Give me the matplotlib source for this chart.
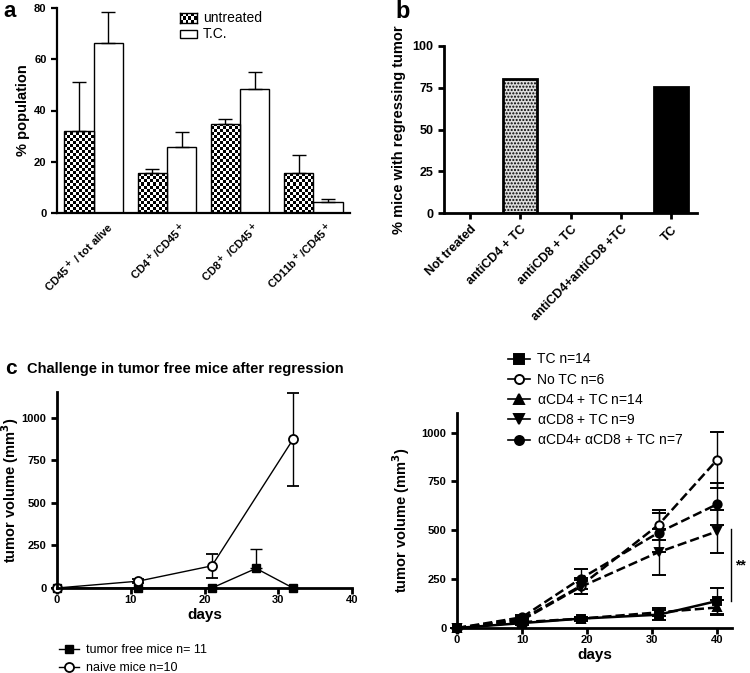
import matplotlib
matplotlib.use('Agg')
import matplotlib.pyplot as plt
import numpy as np
from matplotlib.patches import Rectangle
from matplotlib.lines import Line2D
from matplotlib.transforms import ScaledTranslation

plt.rcParams['font.family'] = ['Liberation Sans', 'DejaVu Sans']
plt.rcParams['font.weight'] = 'bold'
plt.rcParams['axes.labelweight'] = 'bold'
plt.rcParams['mathtext.default'] = 'bf'

# panel a: immune populations
a_categories = ['CD45$^+$ / tot alive', 'CD4$^+$/CD45$^+$', 'CD8$^+$ /CD45$^+$', 'CD11b$^+$/CD45$^+$']
a_untreated = [32, 15.7, 34.6, 15.7]
a_untreated_err = [19.3, 1.5, 2.1, 7.0]
a_tc = [66.3, 25.7, 48.2, 4.3]
a_tc_err = [12.2, 5.8, 6.9, 1.1]

# panel b: % mice with regressing tumor
b_categories = ['Not treated', 'antiCD4 + TC', 'antiCD8 + TC', 'antiCD4+antiCD8 +TC', 'TC']
b_values = [0, 80, 0, 0, 75.3]

# panel c: challenge in tumor free mice
c_days_free = [0, 11, 21, 27, 32]
c_free = [0, 0, 0, 115, 0]
c_free_err = [0, 0, 0, 115, 0]
c_days_naive = [0, 11, 21, 32]
c_naive = [0, 40, 130, 872]
c_naive_err = [0, 12, 70, 273]

# panel d: depletion experiment
d_days = [0, 10, 19, 31, 40]
d_tc = [0, 25, 48, 68, 138]
d_tc_err = [0, 8, 10, 25, 65]
d_notc = [0, 45, 215, 528, 860]
d_notc_err = [0, 10, 40, 77, 145]
d_cd4 = [0, 30, 48, 80, 105]
d_cd4_err = [0, 8, 8, 20, 40]
d_cd8 = [0, 40, 210, 388, 494]
d_cd8_err = [0, 10, 35, 117, 111]
d_cd48 = [0, 55, 252, 488, 633]
d_cd48_err = [0, 10, 52, 100, 108]

fig = plt.figure(figsize=(7.5, 6.73), dpi=100)
W, H = 750, 673

def px_axes(l, t, r, b):
    return fig.add_axes([l / W, (H - b) / H, (r - l) / W, (b - t) / H])

def style(ax, lw=1.6, size=8):
    for s in ['top', 'right']:
        ax.spines[s].set_visible(False)
    for s in ['left', 'bottom']:
        ax.spines[s].set_linewidth(lw)
    ax.tick_params(width=lw, length=4, labelsize=size, direction='out')
    for lab in ax.get_xticklabels() + ax.get_yticklabels():
        lab.set_fontweight('bold')

def checker(ny, nx):
    return np.indices((ny, nx)).sum(axis=0) % 2

# ---- a ----
ax = px_axes(57, 8, 350, 213)
x = np.arange(len(a_categories))
w = 0.4
bars = ax.bar(x - w / 2, a_untreated, w, color='none', edgecolor='black', linewidth=1, zorder=3)
# checkerboard fill of the untreated bars (about 3 px squares)
cw, ch = 0.04, 1.17
for b in bars:
    x0, h = b.get_x(), b.get_height()
    nx, ny = int(round(w / cw)), int(np.ceil(h / ch))
    im = ax.imshow(checker(ny, nx), cmap='gray', interpolation='nearest', aspect='auto',
                   extent=(x0, x0 + nx * cw, 0, ny * ch), origin='lower', zorder=2)
    im.set_clip_path(b)
ax.errorbar(x - w / 2, a_untreated, yerr=[np.zeros(4), a_untreated_err], fmt='none', ecolor='black', elinewidth=1, capsize=5)
ax.bar(x + w / 2, a_tc, w, color='white', edgecolor='black', linewidth=1)
ax.errorbar(x + w / 2, a_tc, yerr=[np.zeros(4), a_tc_err], fmt='none', ecolor='black', elinewidth=1, capsize=5)
ax.set_xlim(-0.5, 3.5)
ax.set_ylim(0, 80)
ax.set_yticks([0, 20, 40, 60, 80])
ax.set_xticks(x)
ax.set_xticklabels(a_categories, rotation=45, ha='right', rotation_mode='anchor')
ax.set_ylabel('% population', fontsize=10.5)
ax.yaxis.set_label_coords(-0.092, 0.5)
style(ax)
ax.tick_params(axis='x', length=0, pad=5)
for lab in ax.get_xticklabels():
    lab.set_transform(lab.get_transform() + ScaledTranslation(0.12, 0, fig.dpi_scale_trans))

# legend of panel a drawn by hand
lax = px_axes(180, 13, 197, 23)
lax.imshow(checker(3, 6), cmap='gray', interpolation='nearest', aspect='auto')
lax.set_xticks([])
lax.set_yticks([])
for s in lax.spines.values():
    s.set_linewidth(1)
fig.patches.append(Rectangle((180 / W, 1 - 38 / H), 17 / W, 8 / H, transform=fig.transFigure,
                             facecolor='white', edgecolor='black', linewidth=1))
fig.text(203 / W, 1 - 18 / H, 'untreated', fontsize=10, fontweight='normal', va='center')
fig.text(203 / W, 1 - 34 / H, 'T.C.', fontsize=10, fontweight='normal', va='center')
fig.text(3 / W, 1 - 17 / H, 'a', fontsize=16, fontweight='bold')

# ---- b ----
ax = px_axes(444, 46, 697, 213)
xb = np.arange(len(b_categories))
colors_b = ['white', '#dcdcdc', 'white', 'white', 'black']
hatch_b = [None, '.....', None, None, None]
for i in range(len(b_categories)):
    if b_values[i] > 0:
        ax.bar(xb[i], b_values[i], 0.68, color=colors_b[i], edgecolor='black',
               hatch=hatch_b[i], linewidth=2)
ax.set_xlim(-0.52, 4.52)
ax.set_ylim(0, 100)
ax.set_yticks([0, 25, 50, 75, 100])
ax.set_xticks(xb)
ax.set_xticklabels(b_categories, rotation=45, ha='right', rotation_mode='anchor')
ax.set_ylabel('% mice with regressing tumor', fontsize=10.5)
ax.yaxis.set_label_coords(-0.15, 0.5)
style(ax, lw=2, size=9)
fig.text(395 / W, 1 - 18 / H, 'b', fontsize=17, fontweight='bold')

# ---- c ----
ax = px_axes(57, 392, 352, 588)
ax.errorbar(c_days_free, c_free, yerr=[np.zeros(5), c_free_err], color='black', lw=1,
            marker='s', ms=5.5, mfc='black', mec='black', capsize=4, elinewidth=1, clip_on=False)
ax.errorbar(c_days_naive, c_naive, yerr=c_naive_err, color='black', lw=1,
            marker='o', ms=6.5, mfc='white', mec='black', mew=1.3, capsize=4, elinewidth=1, clip_on=False)
ax.set_xlim(0, 40)
ax.set_ylim(0, 1150)
ax.set_xticks([0, 10, 20, 30, 40])
ax.set_yticks([0, 250, 500, 750, 1000])
ax.set_xlabel('days', fontsize=11, labelpad=2)
ax.set_ylabel('tumor volume (mm$^3$)', fontsize=10.5)
ax.yaxis.set_label_coords(-0.122, 0.5)
style(ax, lw=2)
ax.tick_params(axis='x', pad=1)
c_handles = [Line2D([], [], color='black', lw=1, marker='s', ms=5.5, mfc='black'),
             Line2D([], [], color='black', lw=1, marker='o', ms=6.5, mfc='white', mew=1.3)]
ax.legend(c_handles, ['tumor free mice n= 11', 'naive mice n=10'], loc='upper left',
          bbox_to_anchor=(-0.03, -0.23), frameon=False,
          prop={'weight': 'normal', 'size': 9}, handlelength=1.6, labelspacing=0.45,
          handletextpad=0.5)
fig.text(5 / W, 1 - 374 / H, 'c', fontsize=15, fontweight='bold')
fig.text(27 / W, 1 - 373 / H, 'Challenge in tumor free mice after regression', fontsize=10.5, fontweight='bold')

# ---- d ----
ax = px_axes(457, 413, 732, 628)
series = [
    (d_tc, d_tc_err, 's', 'black', '-', 'TC n=14'),
    (d_notc, d_notc_err, 'o', 'white', '--', 'No TC n=6'),
    (d_cd4, d_cd4_err, '^', 'black', '--', r'$\mathregular{\alpha}$CD4 + TC n=14'),
    (d_cd8, d_cd8_err, 'v', 'black', '--', r'$\mathregular{\alpha}$CD8 + TC n=9'),
    (d_cd48, d_cd48_err, 'o', 'black', '--', r'$\mathregular{\alpha}$CD4+ $\mathregular{\alpha}$CD8 + TC n=7'),
]
d_handles = []
d_labels = []
for vals, errs, mk, mfc, ls, lab in series:
    ax.errorbar(d_days, vals, yerr=errs, color='black', lw=1.8, ls=ls, marker=mk, ms=6,
                mfc=mfc, mec='black', mew=1.4, capsize=5, elinewidth=1, clip_on=False)
    d_handles.append(Line2D([], [], color='black', lw=1.2, marker=mk, ms=6.5, mfc=mfc, mew=1.4))
    d_labels.append(lab)
ax.set_xlim(0, 42.3)
ax.set_ylim(0, 1100)
ax.set_xticks([0, 10, 20, 30, 40])
ax.set_yticks([0, 250, 500, 750, 1000])
ax.set_xlabel('days', fontsize=11, labelpad=2)
ax.set_ylabel('tumor volume (mm$^3$)', fontsize=10.5)
ax.yaxis.set_label_coords(-0.164, 0.5)
style(ax, lw=2)
ax.tick_params(axis='x', pad=1)
ax.plot([42.1, 42.1], [136, 506], color='black', lw=1, clip_on=False)
ax.text(42.8, 320, '**', fontsize=10, fontweight='bold', va='center', ha='left', clip_on=False)
ax.legend(d_handles, d_labels, loc='upper left', bbox_to_anchor=(0.14, 1.34), frameon=False,
          prop={'weight': 'normal', 'size': 10}, handlelength=1.6, labelspacing=0.45,
          handletextpad=0.5)

fig.savefig('out.png', dpi=100)
